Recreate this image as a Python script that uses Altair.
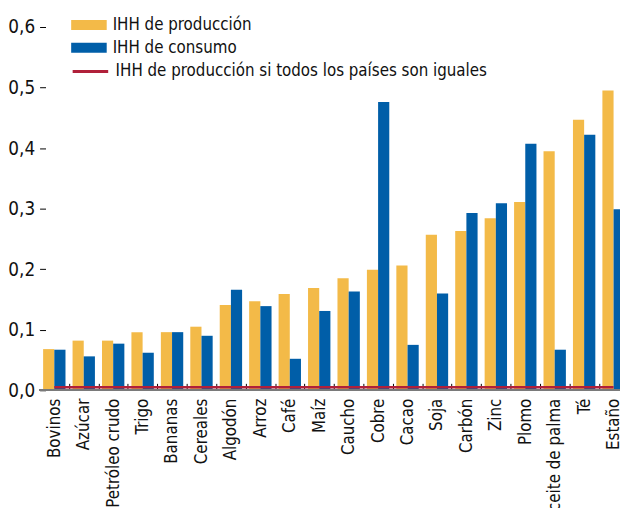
import altair as alt
import pandas as pd

categorias = ["Bovinos", "Azúcar", "Petróleo crudo", "Trigo", "Bananas", "Cereales",
              "Algodón", "Arroz", "Café", "Maíz", "Caucho", "Cobre", "Cacao", "Soja",
              "Carbón", "Zinc", "Plomo", "Aceite de palma", "Té", "Estaño"]
produccion = [0.068, 0.082, 0.082, 0.096, 0.096, 0.105, 0.141, 0.147, 0.159, 0.169,
              0.185, 0.199, 0.206, 0.257, 0.263, 0.284, 0.311, 0.395, 0.447, 0.495]
consumo = [0.067, 0.056, 0.077, 0.062, 0.096, 0.090, 0.166, 0.139, 0.052, 0.131,
           0.163, 0.476, 0.075, 0.160, 0.293, 0.309, 0.407, 0.067, 0.422, 0.299]
iguales = [0.005] * 20
y_ticks = [0.0, 0.05, 0.1, 0.15, 0.2, 0.25, 0.3, 0.35, 0.4, 0.45, 0.5, 0.55, 0.6]

S_PROD = "IHH de producción"
S_CONS = "IHH de consumo"
S_EQ = "IHH de producción si todos los países son iguales"

YELLOW = "#F3BA48"
BLUE = "#005EA8"
RED = "#B0203A"
FONT = "DejaVu Sans Condensed"

bars = pd.DataFrame(
    [{"cat": c, "serie": S_PROD, "valor": v} for c, v in zip(categorias, produccion)]
    + [{"cat": c, "serie": S_CONS, "valor": v} for c, v in zip(categorias, consumo)]
)
line = pd.DataFrame({"cat": categorias, "serie": S_EQ, "valor": iguales})

STEP = 29.82
x_enc = alt.X(
    "cat:N", sort=categorias, title=None,
    scale=alt.Scale(range=[0, STEP * 20], paddingInner=0.24, paddingOuter=0.12),
    axis=alt.Axis(
        offset=-7, domain=False, tickSize=7, tickColor="black", tickWidth=1,
        bandPosition=1, tickOffset=STEP * 0.12, labelOffset=-STEP * 0.12,
        labelAngle=270, labelAlign="right", labelBaseline="middle",
        labelPadding=8, labelFontSize=17, labelColor="#111111", labelFont=FONT,
        labelLimit=0,
    ),
)
y_enc = alt.Y(
    "valor:Q", title=None,
    scale=alt.Scale(domain=[0, 0.6], nice=False),
    axis=alt.Axis(
        values=y_ticks, offset=-6, domain=False, grid=False,
        tickColor="black", tickWidth=1,
        tickSize={"condition": {"test": "round(datum.value*100) % 10 != 0", "value": 3}, "value": 6},
        labelExpr="round(datum.value*100) % 10 == 0 ? replace(format(datum.value, '.1f'), '.', ',') : ''",
        labelPadding=5, labelFontSize=19, labelColor="#111111", labelFont=FONT,
    ),
)

bar_layer = alt.Chart(bars).mark_bar().encode(
    x=x_enc,
    xOffset=alt.XOffset("serie:N", sort=[S_PROD, S_CONS],
                        scale=alt.Scale(paddingInner=0, paddingOuter=0)),
    y=y_enc,
    color=alt.Color(
        "serie:N",
        scale=alt.Scale(domain=[S_PROD, S_CONS], range=[YELLOW, BLUE]),
        legend=alt.Legend(
            title=None, orient="none", legendX=41, legendY=-11,
            symbolType="M-2,-0.556H2V0.556H-2Z", symbolSize=324, symbolStrokeWidth=0,
            labelFontSize=17, labelFont=FONT, labelColor="#111111", labelOffset=15,
            rowPadding=6, padding=0, labelLimit=0,
        ),
    ),
)

line_layer = alt.Chart(line).mark_line(strokeWidth=2.5).encode(
    x=x_enc,
    y=y_enc,
    stroke=alt.Stroke(
        "serie:N",
        scale=alt.Scale(domain=[S_EQ], range=[RED]),
        legend=alt.Legend(
            title=None, orient="none", legendX=41, legendY=34.5,
            symbolType="M-2,0H2", symbolSize=324, symbolStrokeWidth=3,
            labelFontSize=17, labelFont=FONT, labelColor="#111111", labelOffset=15,
            padding=0, labelLimit=0,
        ),
    ),
)

base_rule = alt.Chart(line).mark_rule(color="#7a7a7a", strokeWidth=1.5).encode(
    y=alt.datum(0)
)

chart = alt.layer(bar_layer, line_layer, base_rule).resolve_scale(
    color="independent"
).properties(
    width=588, height=368,
    autosize=alt.AutoSizeParams(type="none"),
    padding={"left": 32, "top": 16, "right": 0, "bottom": 116},
).configure_view(stroke=None)

chart.save("out.html", embed_options={"renderer": "svg", "actions": False})
